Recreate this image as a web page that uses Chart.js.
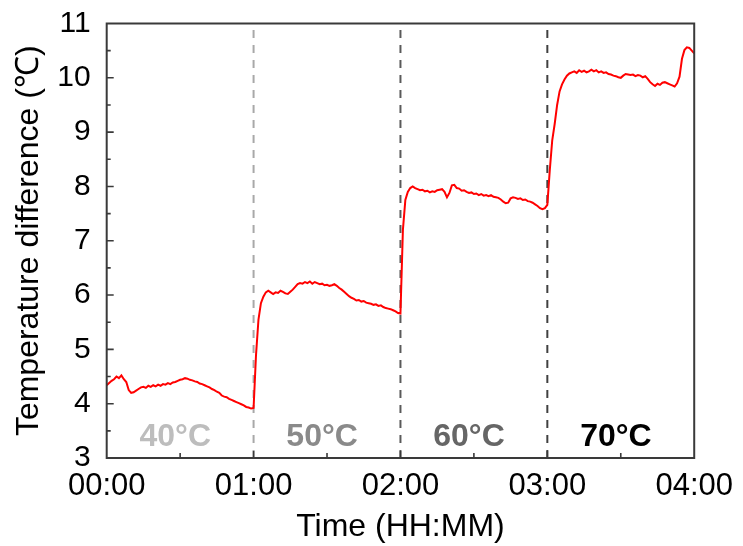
<!DOCTYPE html>
<html>
<head>
<meta charset="utf-8">
<script src="https://cdn.jsdelivr.net/npm/chart.js@4/dist/chart.umd.min.js"></script>
<style>
  html, body { margin: 0; padding: 0; background: #fff; }
  #wrap { width: 743px; height: 546px; }
</style>
</head>
<body>
<div id="wrap"><canvas id="myChart" width="743" height="546"></canvas></div>
<script>
// time in minutes from start, one reading per minute
let minutes = [];
for (let m = 0; m <= 240; m++) minutes.push(m);

// temperature difference (°C), one per minute
let seg40 = [4.34, 4.38, 4.42, 4.45, 4.50, 4.47, 4.52, 4.45, 4.40, 4.25,
             4.20, 4.21, 4.24, 4.27, 4.30, 4.31, 4.29, 4.33, 4.31, 4.34,
             4.32, 4.35, 4.33, 4.36, 4.35, 4.38, 4.36, 4.39, 4.40, 4.42,
             4.44, 4.45, 4.47, 4.46, 4.44, 4.43, 4.41, 4.40, 4.37, 4.36,
             4.34, 4.32, 4.30, 4.27, 4.25, 4.22, 4.20, 4.15, 4.13, 4.12,
             4.09, 4.07, 4.05, 4.03, 4.01, 3.99, 3.97, 3.94, 3.93, 3.91, 3.92];
let seg50 = [4.90, 5.55, 5.85, 5.97, 6.05, 6.08, 6.05, 6.02, 6.05, 6.04,
             6.08, 6.06, 6.03, 6.02, 6.06, 6.10, 6.15, 6.20, 6.22, 6.21,
             6.24, 6.22, 6.25, 6.21, 6.24, 6.22, 6.20, 6.21, 6.18, 6.19,
             6.17, 6.18, 6.20, 6.17, 6.13, 6.10, 6.06, 6.02, 5.98, 5.95,
             5.93, 5.90, 5.91, 5.88, 5.89, 5.86, 5.85, 5.84, 5.82, 5.83,
             5.80, 5.81, 5.78, 5.76, 5.75, 5.74, 5.72, 5.70, 5.67, 5.66];
let seg60 = [7.20, 7.75, 7.90, 7.97, 8.00, 7.97, 7.95, 7.93, 7.94, 7.91,
             7.92, 7.89, 7.91, 7.90, 7.93, 7.94, 7.95, 7.90, 7.80, 7.88,
             8.02, 8.03, 7.97, 7.96, 7.92, 7.93, 7.90, 7.88, 7.89, 7.86,
             7.87, 7.84, 7.86, 7.83, 7.84, 7.82, 7.84, 7.81, 7.80, 7.79,
             7.76, 7.72, 7.69, 7.70, 7.78, 7.80, 7.79, 7.77, 7.78, 7.75,
             7.76, 7.73, 7.72, 7.70, 7.67, 7.64, 7.60, 7.58, 7.60, 7.66];
let seg70 = [8.30, 8.85, 9.15, 9.50, 9.75, 9.88, 9.97, 10.04, 10.08, 10.10,
             10.12, 10.09, 10.14, 10.11, 10.13, 10.10, 10.12, 10.15, 10.12, 10.14,
             10.10, 10.12, 10.09, 10.10, 10.07, 10.06, 10.04, 10.03, 10.01, 10.00,
             10.04, 10.07, 10.06, 10.05, 10.06, 10.03, 10.05, 10.04, 10.01, 10.03,
             9.98, 9.92, 9.88, 9.85, 9.89, 9.87, 9.91, 9.92, 9.90, 9.88,
             9.86, 9.84, 9.90, 10.02, 10.35, 10.51, 10.56, 10.55, 10.50, 10.45];
let deltaT = seg40.concat(seg50, seg60, seg70);

// heater set points and where they switch
let stepMinutes = [60, 120, 180];
let stepColors = ['#a8a8a8', '#5a5a5a', '#404040'];
let zoneLabels = ['40°C', '50°C', '60°C', '70°C'];
let zoneColors = ['#bdbdbd', '#8a8a8a', '#666666', '#000000'];
let xTicks = [0, 60, 120, 180, 240];

const fontFam = '"Liberation Sans", Arial, sans-serif';

let pad2 = (n) => String(n).padStart(2, '0');
let hhmm = (m) => pad2(Math.floor(m / 60)) + ':' + pad2(m % 60);

let datasets = [{
  data: minutes.map((m, i) => ({x: m, y: deltaT[i]})),
  borderColor: '#ff0000',
  borderWidth: 2,
  pointRadius: 0,
  tension: 0
}];
stepMinutes.forEach((m, i) => {
  datasets.push({
    data: [{x: m, y: 3}, {x: m, y: 11}],
    borderColor: stepColors[i],
    borderWidth: 2,
    borderDash: [8, 7],
    pointRadius: 0
  });
});

// frame, inward ticks and zone labels
const frame = {
  id: 'frame',
  afterDatasetsDraw(chart) {
    const {ctx, chartArea: a, scales: {x, y}} = chart;
    ctx.save();
    ctx.strokeStyle = '#3a3a3a';
    ctx.lineWidth = 1.6;
    ctx.beginPath();
    for (let v = 3.5; v < 11; v += 0.5) {
      let py = y.getPixelForValue(v);
      let len = (v % 1 === 0) ? 7 : 4;
      ctx.moveTo(a.left, py);
      ctx.lineTo(a.left + len, py);
    }
    for (let m = 30; m < 240; m += 30) {
      let px = x.getPixelForValue(m);
      let len = (m % 60 === 0) ? 7 : 5;
      ctx.moveTo(px, a.bottom);
      ctx.lineTo(px, a.bottom - len);
    }
    ctx.stroke();
    ctx.lineWidth = 2;
    ctx.strokeRect(a.left, a.top, a.right - a.left, a.bottom - a.top);

    ctx.font = 'bold 32px ' + fontFam;
    ctx.textAlign = 'center';
    ctx.textBaseline = 'alphabetic';
    zoneLabels.forEach((t, i) => {
      ctx.fillStyle = zoneColors[i];
      ctx.fillText(t, x.getPixelForValue(28 + 60 * i), y.getPixelForValue(3.23));
    });
    ctx.restore();
  }
};

const chart = new Chart(document.getElementById('myChart').getContext('2d'), {
  type: 'line',
  data: {datasets},
  options: {
    responsive: false,
    animation: false,
    layout: {padding: {top: 23.5, right: 48, left: 0, bottom: 0}},
    plugins: {legend: {display: false}, tooltip: {enabled: false}},
    scales: {
      x: {
        type: 'linear',
        min: 0, max: 240,
        afterBuildTicks: (s) => { s.ticks = xTicks.map(v => ({value: v})); },
        afterFit: (s) => { s.height = 88; },
        grid: {display: false, drawTicks: false},
        border: {display: false},
        ticks: {
          callback: (v) => hhmm(v),
          color: '#000',
          font: {family: fontFam, size: 31},
          padding: 10,
          maxRotation: 0
        },
        title: {
          display: true,
          text: 'Time (HH:MM)',
          color: '#000',
          font: {family: fontFam, size: 32},
          padding: {top: 0, bottom: 0}
        }
      },
      y: {
        min: 3, max: 11,
        afterFit: (s) => { s.width = 106.7; s.paddingTop = 0; s.paddingBottom = 0; },
        grid: {display: false, drawTicks: false},
        border: {display: false},
        ticks: {
          stepSize: 1,
          color: '#000',
          font: {family: fontFam, size: 30},
          padding: 16
        },
        title: {
          display: true,
          text: 'Temperature difference (℃)',
          color: '#000',
          font: {family: fontFam, size: 32},
          padding: {top: 10, bottom: 0}
        }
      }
    }
  },
  plugins: [frame]
});
</script>
</body>
</html>
